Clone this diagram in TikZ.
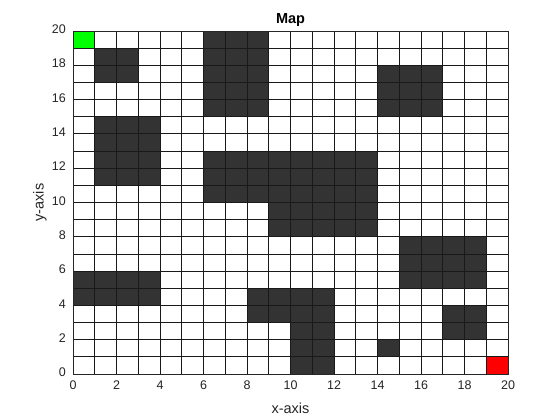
\documentclass[tikz,border=0pt]{standalone}
\usepackage{fontspec}
\setmainfont{Liberation Sans}
\definecolor{obst}{RGB}{51,51,51}
\definecolor{startc}{RGB}{0,255,0}
\definecolor{goalc}{RGB}{255,0,0}
\tikzset{
  cell/.style={fill=obst},
  gridline/.style={line width=0.8bp, black!90},
  frameline/.style={line width=0.9bp, black!85},
  ticklab/.style={font=\fontsize{12.5bp}{14bp}\selectfont, inner sep=0pt, text=black!85},
  axlab/.style={font=\fontsize{14.5bp}{16bp}\selectfont, inner sep=0pt, text=black!85},
  titlelab/.style={font=\fontsize{14.5bp}{16bp}\selectfont\bfseries, inner sep=0pt},
}
\begin{document}
\begin{tikzpicture}[x=21.75bp, y=17.15bp]
\useasboundingbox[fill=white] (-73bp,-46bp) rectangle (487bp,374bp);
% start and goal
\fill[startc] (0,19) rectangle (1,20);
\fill[goalc] (19,0) rectangle (20,1);
% obstacles
\fill[cell] (1,17) rectangle (3,19);
\fill[cell] (6,15) rectangle (9,20);
\fill[cell] (14,15) rectangle (17,18);
\fill[cell] (1,11) rectangle (4,15);
\fill[cell] (6,10) rectangle (9,13);
\fill[cell] (9,8) rectangle (14,13);
\fill[cell] (15,5) rectangle (19,8);
\fill[cell] (0,4) rectangle (4,6);
\fill[cell] (8,3) rectangle (12,5);
\fill[cell] (10,0) rectangle (12,3);
\fill[cell] (17,2) rectangle (19,4);
\fill[cell] (14,1) rectangle (15,2);
% grid
\foreach \k in {1,...,19} {
  \draw[gridline] (\k,0) -- (\k,20);
  \draw[gridline] (0,\k) -- (20,\k);
}
\draw[frameline] (0,0) rectangle (20,20);
% ticks
\foreach \v in {0,2,...,20} {
  \node[ticklab, anchor=mid] (xt\v) at ([yshift=-13bp]\v,0) {\v};
  \node[ticklab, anchor=mid east] (yt\v) at ([xshift=-7bp]0,\v) {\v};
}
\node[axlab, anchor=base] (xlab) at ([yshift=-39bp]10,0) {x-axis};
\node[axlab, rotate=90, anchor=center] (ylab) at ([xshift=-33bp]0,10) {y-axis};
\node[titlelab, anchor=base] (title) at ([yshift=7bp]10,20) {Map};
\end{tikzpicture}
\end{document}
